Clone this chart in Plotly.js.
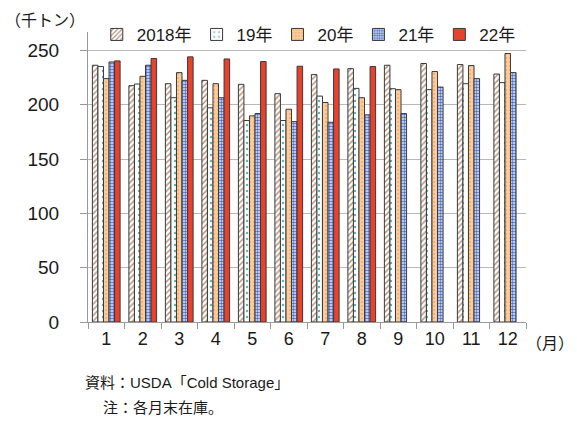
<!DOCTYPE html>
<html>
<head>
<meta charset="utf-8">
<script src="https://cdn.plot.ly/plotly-3.0.1.min.js"></script>
<style>
  html, body { margin: 0; padding: 0; background: #ffffff; }
  #chart { width: 577px; height: 421px; }
</style>
</head>
<body>
<div id="chart"></div>
<script>
// Month-end cold storage stocks (thousand tonnes), by month
const months = ["1", "2", "3", "4", "5", "6", "7", "8", "9", "10", "11", "12"];
const seriesNames = ["2018年", "19年", "20年", "21年", "22年"];

const stocks2018 = [236.4, 217.6, 219.4, 222.5, 218.8, 210.2, 227.8, 233.3, 236.4, 238.0, 237.0, 228.3];
const stocks2019 = [235.2, 219.1, 206.5, 197.2, 185.5, 185.5, 208.0, 215.1, 214.8, 213.9, 219.4, 220.4];
const stocks2020 = [224.1, 226.2, 229.6, 219.4, 189.8, 195.9, 202.1, 206.5, 213.9, 230.6, 236.1, 247.2];
const stocks2021 = [239.4, 236.4, 222.5, 206.5, 191.9, 184.5, 183.9, 190.7, 191.9, 216.3, 224.1, 229.6];
const stocks2022 = [240.4, 242.6, 244.1, 242.2, 239.8, 235.5, 233.0, 235.2, null, null, null, null];

const yTicks = [0, 50, 100, 150, 200, 250];

const FONT_LATIN = "'Liberation Sans', Arial, 'Noto Sans CJK JP', sans-serif";
const FONT_JP = "'Noto Sans CJK JP', 'Liberation Sans', sans-serif";
const EDGE = { color: "#3a3a3a", width: 1 };

// fill style for each year's bars
const fills = [
  { color: "#ffffff", pattern: { shape: "/", fgcolor: "#b08a70", bgcolor: "#ffffff", size: 4, solidity: 0.35 } },
  { color: "#ffffff", pattern: { shape: ".", fgcolor: "#58b4b8", bgcolor: "#ffffff", size: 6, solidity: 0.12 } },
  { color: "#f9c18c", pattern: { shape: ".", fgcolor: "#f2ab6c", bgcolor: "#fbcb9a", size: 4, solidity: 0.2 } },
  { color: "#7b94d6", pattern: { shape: ".", fgcolor: "#4a6cc6", bgcolor: "#e6ecfa", size: 3, solidity: 0.55 } },
  { color: "#e8412c", pattern: { shape: "" } }
];

const seriesValues = [stocks2018, stocks2019, stocks2020, stocks2021, stocks2022];

const traces = seriesValues.map((vals, i) => ({
  type: "bar",
  name: seriesNames[i],
  x: months,
  y: vals,
  marker: {
    color: fills[i].color,
    pattern: fills[i].pattern,
    line: EDGE
  },
  hoverinfo: "x+y+name"
}));

const layout = {
  width: 577,
  height: 421,
  margin: { l: 88, r: 51, t: 32, b: 99 },
  paper_bgcolor: "#ffffff",
  plot_bgcolor: "#ffffff",
  barmode: "group",
  bargap: 0.24,
  bargroupgap: 0,
  showlegend: true,
  legend: {
    orientation: "h",
    x: 0.02,
    xanchor: "left",
    y: 0.99,
    yanchor: "middle",
    font: { family: FONT_LATIN, size: 17, color: "#1a1a1a" },
    bgcolor: "rgba(255,255,255,0)",
    itemwidth: 30,
    traceorder: "normal"
  },
  xaxis: {
    type: "category",
    tickson: "boundaries",
    ticks: "outside",
    ticklen: 6,
    tickcolor: "#9a9a9a",
    tickwidth: 1,
    showline: true,
    linecolor: "#9a9a9a",
    linewidth: 1,
    showgrid: false,
    tickfont: { family: FONT_LATIN, size: 18, color: "#1a1a1a" },
    fixedrange: true
  },
  yaxis: {
    range: [0, 267],
    tickvals: yTicks,
    ticktext: yTicks.map(String),
    ticks: "outside",
    ticklen: 7,
    tickcolor: "#9a9a9a",
    ticklabelstandoff: 17,
    showline: true,
    linecolor: "#9a9a9a",
    linewidth: 1,
    showgrid: true,
    gridcolor: "#b8b8b8",
    gridwidth: 1,
    zeroline: false,
    tickfont: { family: FONT_LATIN, size: 19, color: "#1a1a1a" },
    fixedrange: true
  },
  annotations: [
    {
      text: "（千トン）", xref: "paper", yref: "paper",
      x: -0.193, y: 1.045, xanchor: "left", yanchor: "middle",
      showarrow: false, font: { family: FONT_JP, size: 16, color: "#1a1a1a" }
    },
    {
      text: "（月）", xref: "paper", yref: "paper",
      x: 1.114, y: -0.07, xanchor: "right", yanchor: "middle",
      showarrow: false, font: { family: FONT_JP, size: 16, color: "#1a1a1a" }
    },
    {
      text: "資料：USDA「Cold Storage」", xref: "paper", yref: "paper",
      x: -0.012, y: -0.21, xanchor: "left", yanchor: "middle",
      showarrow: false, font: { family: FONT_LATIN, size: 15, color: "#1a1a1a" }
    },
    {
      text: "注：各月末在庫。", xref: "paper", yref: "paper",
      x: 0.03, y: -0.29, xanchor: "left", yanchor: "middle",
      showarrow: false, font: { family: FONT_JP, size: 15, color: "#1a1a1a" }
    }
  ]
};

Plotly.newPlot("chart", traces, layout, { displayModeBar: false, staticPlot: true });
</script>
</body>
</html>
